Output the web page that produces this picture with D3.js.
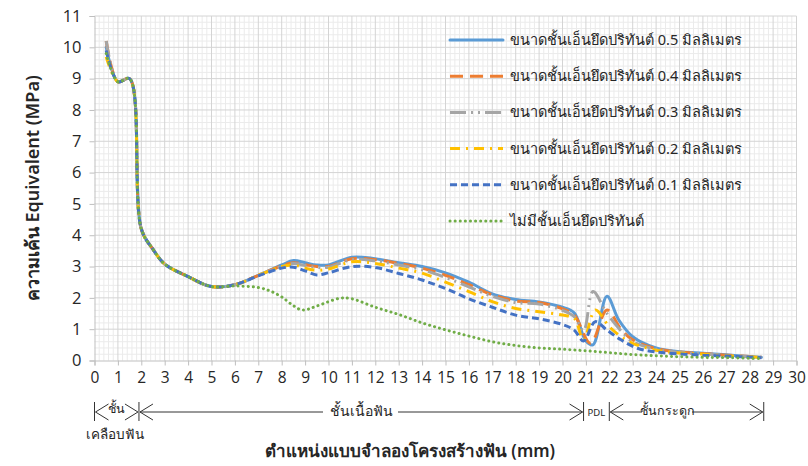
<!DOCTYPE html>
<html>
<head>
<meta charset="utf-8">
<script src="https://cdn.jsdelivr.net/npm/d3@7"></script>
<style>
  body { margin: 0; background: #fff; }
  text { font-family: "Noto Sans", "DejaVu Sans", sans-serif; fill: #262626; }
</style>
</head>
<body>
<div id="chart"></div>
<script>
// series names (legend order)
const seriesNames = [
  "ขนาดชั้นเอ็นยึดปริทันต์ 0.5 มิลลิเมตร",
  "ขนาดชั้นเอ็นยึดปริทันต์ 0.4 มิลลิเมตร",
  "ขนาดชั้นเอ็นยึดปริทันต์ 0.3 มิลลิเมตร",
  "ขนาดชั้นเอ็นยึดปริทันต์ 0.2 มิลลิเมตร",
  "ขนาดชั้นเอ็นยึดปริทันต์ 0.1 มิลลิเมตร",
  "ไม่มีชั้นเอ็นยึดปริทันต์"
];

// positions (mm) and stress values (MPa)
const x05 = [0.5, 1, 1.5, 2, 2.5, 3, 4, 5, 6, 7, 8, 8.5, 9, 9.5, 10, 11, 12, 13, 14, 15, 16, 17, 18, 19, 20, 20.5, 21, 21.3, 21.9, 22.4, 23, 24, 25, 26, 27, 28, 28.5];
const y05 = [10.0, 8.9, 9.0, 4.2, 3.55, 3.08, 2.68, 2.36, 2.42, 2.72, 3.05, 3.19, 3.12, 3.05, 3.05, 3.3, 3.25, 3.12, 3.0, 2.8, 2.5, 2.13, 1.95, 1.87, 1.7, 1.52, 0.62, 0.5, 2.05, 1.3, 0.76, 0.4, 0.28, 0.23, 0.18, 0.13, 0.1];

const x04 = [0.5, 1, 1.5, 2, 2.5, 3, 4, 5, 6, 7, 8, 8.5, 9, 9.5, 10, 11, 12, 13, 14, 15, 16, 17, 18, 19, 20, 20.5, 21.2, 21.9, 22.5, 23, 24, 25, 26, 27, 28, 28.5];
const y04 = [10.2, 8.9, 9.0, 4.2, 3.55, 3.08, 2.68, 2.36, 2.42, 2.72, 3.02, 3.12, 3.06, 3.0, 3.0, 3.25, 3.22, 3.1, 2.95, 2.72, 2.42, 2.1, 1.9, 1.85, 1.65, 1.45, 0.55, 1.61, 1.0, 0.66, 0.38, 0.27, 0.22, 0.17, 0.13, 0.1];

const x03 = [0.5, 1, 1.5, 2, 2.5, 3, 4, 5, 6, 7, 8, 8.5, 9, 9.5, 10, 11, 12, 13, 14, 15, 16, 17, 18, 19, 20, 20.5, 20.9, 21.3, 21.9, 22.5, 23, 24, 25, 26, 27, 28, 28.5];
const y03 = [10.2, 8.9, 9.0, 4.2, 3.55, 3.08, 2.68, 2.36, 2.42, 2.72, 3.0, 3.1, 3.03, 2.97, 2.98, 3.22, 3.18, 3.05, 2.9, 2.65, 2.35, 2.05, 1.85, 1.8, 1.6, 1.4, 0.95, 2.2, 1.5, 0.95, 0.6, 0.36, 0.26, 0.21, 0.16, 0.12, 0.1];

const x02 = [0.5, 1, 1.5, 2, 2.5, 3, 4, 5, 6, 7, 8, 8.5, 9, 9.5, 10, 11, 12, 13, 14, 15, 16, 17, 18, 19, 20, 20.5, 20.9, 21.4, 22, 22.5, 23, 24, 25, 26, 27, 28, 28.5];
const y02 = [9.7, 8.9, 9.0, 4.2, 3.55, 3.08, 2.68, 2.36, 2.42, 2.72, 3.0, 3.05, 2.95, 2.88, 2.92, 3.15, 3.1, 2.95, 2.79, 2.5, 2.2, 1.88, 1.66, 1.56, 1.45, 1.35, 0.66, 1.61, 1.08, 0.76, 0.55, 0.33, 0.24, 0.2, 0.15, 0.12, 0.1];

const x01 = [0.5, 1, 1.5, 2, 2.5, 3, 4, 5, 6, 7, 8, 8.5, 9, 9.5, 10, 11, 12, 13, 14, 15, 16, 17, 18, 19, 20, 20.5, 20.9, 21.4, 21.9, 22.5, 23.2, 24, 25, 26, 27, 28, 28.5];
const y01 = [9.9, 8.9, 9.0, 4.2, 3.55, 3.08, 2.68, 2.36, 2.42, 2.7, 2.95, 2.98, 2.86, 2.73, 2.8, 3.0, 2.97, 2.78, 2.57, 2.3, 1.97, 1.7, 1.45, 1.33, 1.15, 0.97, 0.62, 1.24, 0.97, 0.66, 0.39, 0.27, 0.21, 0.17, 0.14, 0.11, 0.09];

const x00 = [0.5, 1, 1.5, 2, 2.5, 3, 4, 5, 6, 7, 7.5, 8, 8.5, 8.9, 9.5, 10.5, 11, 12, 13, 14, 15, 16, 17, 18, 19, 20, 21, 22, 23, 24, 25, 26, 27, 28, 28.5];
const y00 = [9.8, 8.9, 9.0, 4.2, 3.55, 3.08, 2.68, 2.36, 2.38, 2.33, 2.22, 2.03, 1.75, 1.61, 1.74, 1.99, 1.97, 1.7, 1.47, 1.2, 0.98, 0.78, 0.6, 0.48, 0.4, 0.36, 0.31, 0.25, 0.19, 0.15, 0.12, 0.1, 0.09, 0.07, 0.06];

const seriesX = [x05, x04, x03, x02, x01, x00];
const seriesY = [y05, y04, y03, y02, y01, y00];

// axis ticks
const xTicks = d3.range(0, 31, 1);
const yTicks = d3.range(0, 12, 1);

// region annotations under the x axis
const regionBars = [0, 1.9, 20.9, 22, 28.6];

// styles
const colors = ["#5b9bd5", "#ed7d31", "#a5a5a5", "#ffc000", "#4472c4", "#70ad47"];
const dashes = ["none", "13,7", "16,5,2,5,2,5", "10,6,2,6", "7,4", "0.1,5"];
const caps = ["round", "butt", "butt", "butt", "butt", "round"];

const width = 808, height = 466;
const margin = { left: 94.5, right: 11.5, top: 16, bottom: 105.5 };

const svg = d3.select("#chart").append("svg")
  .attr("width", width)
  .attr("height", height);

svg.append("rect").attr("width", width).attr("height", height).attr("fill", "#fff");

const x = d3.scaleLinear().domain([0, 30]).range([margin.left, width - margin.right]);
const y = d3.scaleLinear().domain([0, 11]).range([height - margin.bottom, margin.top]);

// minor grid
const grid = svg.append("g");
grid.selectAll(".mx").data(d3.range(0, 150, 1).map(i => i / 5).filter(v => v % 1 !== 0))
  .enter().append("line")
  .attr("x1", d => x(d)).attr("x2", d => x(d))
  .attr("y1", y(0)).attr("y2", y(11))
  .attr("stroke", "#ebebeb").attr("stroke-width", 1);
grid.selectAll(".my").data(d3.range(0, 55, 1).map(i => i / 5).filter(v => v % 1 !== 0))
  .enter().append("line")
  .attr("x1", x(0)).attr("x2", x(30))
  .attr("y1", d => y(d)).attr("y2", d => y(d))
  .attr("stroke", "#ebebeb").attr("stroke-width", 1);

// major grid
grid.selectAll(".gx").data(xTicks.slice(1)).enter().append("line")
  .attr("x1", d => x(d)).attr("x2", d => x(d))
  .attr("y1", y(0)).attr("y2", y(11))
  .attr("stroke", "#d4d4d4").attr("stroke-width", 1);
grid.selectAll(".gy").data(yTicks.slice(1)).enter().append("line")
  .attr("x1", x(0)).attr("x2", x(30))
  .attr("y1", d => y(d)).attr("y2", d => y(d))
  .attr("stroke", "#d4d4d4").attr("stroke-width", 1);

// axes
const xAxis = svg.append("g")
  .attr("transform", `translate(0,${y(0)})`)
  .call(d3.axisBottom(x).tickValues(xTicks).tickSize(5).tickPadding(6));
const yAxis = svg.append("g")
  .attr("transform", `translate(${x(0)},0)`)
  .call(d3.axisLeft(y).tickValues(yTicks).tickSize(5).tickPadding(8));

[xAxis, yAxis].forEach(a => {
  a.selectAll("path, line").attr("stroke", "#bfbfbf");
  a.selectAll("text").style("font-size", "15.5px").attr("fill", "#404040")
    .style("font-family", "'Open Sans', sans-serif");
});
yAxis.selectAll("text").style("font-size", "16.5px");

// lines
const line = d3.line().curve(d3.curveCatmullRom.alpha(0.5));
seriesNames.forEach((name, i) => {
  const pts = seriesX[i].map((v, j) => [x(v), y(seriesY[i][j])]);
  svg.append("path")
    .attr("d", line(pts))
    .attr("fill", "none")
    .attr("stroke", colors[i])
    .attr("stroke-width", 3)
    .attr("stroke-dasharray", dashes[i])
    .attr("stroke-linecap", caps[i])
    .attr("stroke-linejoin", "round");
});

// legend
const legend = svg.append("g").attr("transform", "translate(450,40)");
seriesNames.forEach((name, i) => {
  const row = legend.append("g").attr("transform", `translate(0,${i * 36.2})`);
  row.append("line")
    .attr("x1", 0).attr("x2", 53).attr("y1", 0).attr("y2", 0)
    .attr("stroke", colors[i])
    .attr("stroke-width", 3)
    .attr("stroke-dasharray", dashes[i])
    .attr("stroke-linecap", caps[i]);
  row.append("text")
    .attr("x", 60).attr("y", 0).attr("dy", "0.35em")
    .style("font-size", "14.5px")
    .text(name);
});

// axis titles
svg.append("text")
  .attr("transform", `translate(33,${(y(0) + y(11)) / 2}) rotate(-90)`)
  .attr("text-anchor", "middle")
  .attr("dy", "0.35em")
  .style("font-size", "18px")
  .style("font-weight", "600")
  .text("ความเค้น Equivalent (MPa)");

svg.append("text")
  .attr("x", 410).attr("y", 451)
  .attr("text-anchor", "middle")
  .attr("dy", "0.35em")
  .style("font-size", "17px")
  .style("font-weight", "600")
  .text("ตำแหน่งแบบจำลองโครงสร้างฟัน (mm)");

// region annotation: bars, arrows and labels
const ann = svg.append("g").attr("stroke", "#333").attr("stroke-width", 1).attr("fill", "none");
const ay = 412;
regionBars.forEach(v => {
  ann.append("line").attr("x1", x(v)).attr("x2", x(v)).attr("y1", ay - 10).attr("y2", ay + 9);
});
const chevron = (px, dir) => {
  ann.append("path")
    .attr("d", `M${px + dir * 13},${ay - 8}L${px},${ay}L${px + dir * 13},${ay + 8}`);
};
const bx = regionBars.map(v => x(v));
// enamel
chevron(bx[0] + 1, 1); chevron(bx[1] - 1, -1);
// dentin
chevron(bx[1] + 1, 1); chevron(bx[2] - 1, -1);
ann.append("line").attr("x1", bx[1] + 1).attr("x2", 323).attr("y1", ay).attr("y2", ay);
ann.append("line").attr("x1", 398).attr("x2", bx[2] - 1).attr("y1", ay).attr("y2", ay);
// bone
chevron(bx[3] + 1, 1); chevron(bx[4] - 1, -1);
ann.append("line").attr("x1", bx[3] + 1).attr("x2", 642).attr("y1", ay).attr("y2", ay);
ann.append("line").attr("x1", 692).attr("x2", bx[4] - 1).attr("y1", ay).attr("y2", ay);

const annText = (tx, ty, s, size) => svg.append("text")
  .attr("x", tx).attr("y", ty).attr("text-anchor", "middle").attr("dy", "0.35em")
  .style("font-size", size + "px").text(s);
annText((bx[0] + bx[1]) / 2, ay - 3, "ชั้น", 12.5);
annText(115, 434, "เคลือบฟัน", 13.5);
annText(361, ay - 1, "ชั้นเนื้อฟัน", 14);
annText((bx[2] + bx[3]) / 2, ay + 1, "PDL", 9.5);
annText(667, ay - 1, "ชั้นกระดูก", 12.5);
</script>
</body>
</html>
